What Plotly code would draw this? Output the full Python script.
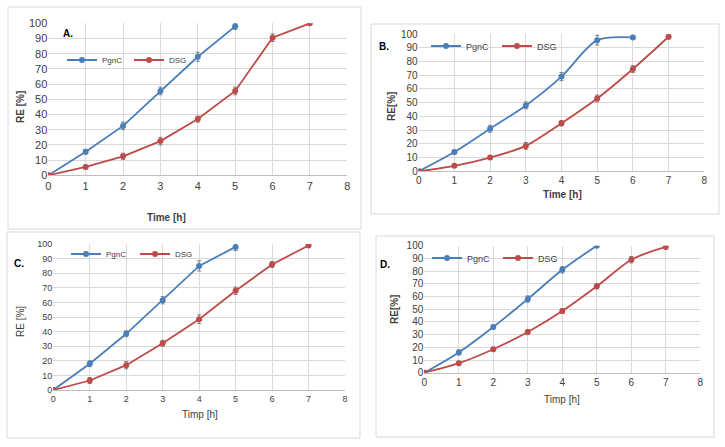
import plotly.graph_objects as go

W, H = 725, 447

# ---------------- data ----------------
time_pgnc_A = [0, 1, 2, 3, 4, 5]
pgnc_A = [0, 15.5, 32.5, 55.5, 78, 98]
pgnc_A_err = [1, 1.5, 2.5, 2.5, 3, 2]
time_dsg_A = [0, 1, 2, 3, 4, 5, 6, 7]
dsg_A = [0, 5.5, 12.5, 22.5, 37, 55.5, 90.5, 100]
dsg_A_err = [1, 1.2, 2, 2.5, 2, 2.5, 2.5, 1]

time_pgnc_B = [0, 1, 2, 3, 4, 5, 6]
pgnc_B = [0, 14, 31, 48, 69, 95.5, 97.5]
pgnc_B_err = [1, 1.5, 2.5, 2.5, 3, 3.5, 1]
time_dsg_B = [0, 1, 2, 3, 4, 5, 6, 7]
dsg_B = [0, 4, 10, 18.5, 35, 53, 74.5, 98]
dsg_B_err = [1, 1, 1.5, 2.5, 2, 2.5, 2.5, 1.5]

time_pgnc_C = [0, 1, 2, 3, 4, 5]
pgnc_C = [0, 18, 38.5, 61.5, 85, 98]
pgnc_C_err = [1, 2, 2, 2.5, 3.5, 2.5]
time_dsg_C = [0, 1, 2, 3, 4, 5, 6, 7]
dsg_C = [0, 6.5, 17, 32, 48.5, 68, 86, 99]
dsg_C_err = [1, 2, 2.5, 2, 3, 2.5, 2, 1]

time_pgnc_D = [0, 1, 2, 3, 4, 5]
pgnc_D = [0, 16, 36, 58, 81, 100]
pgnc_D_err = [1, 2, 1.5, 2.5, 2.5, 1]
time_dsg_D = [0, 1, 2, 3, 4, 5, 6, 7]
dsg_D = [0, 7.5, 18.5, 32, 48.5, 68, 89, 99]
dsg_D_err = [1, 1, 1.5, 2, 2, 2, 2.5, 1]

x_ticks = [0, 1, 2, 3, 4, 5, 6, 7, 8]
y_ticks = [0, 10, 20, 30, 40, 50, 60, 70, 80, 90, 100]

BLUE = "#4A7EBB"
RED = "#BE4B48"
FONT = "Liberation Sans"

def px(x):
    return x / W

def py(y):
    return 1 - y / H

panels = [
    dict(key="A", plot=(48.3, 347.3, 23.3, 175.3), frame=(8, 7, 361, 229),
         label=(68, 33), xtitle="Time [h]", xt=(166, 217), xbold=True,
         ytitle="RE [%]", yt=(20, 107), ybold=True, legy=60, legx=62, legfs=8,
         legew=22, tfs=11, shape="linear",
         data=(time_pgnc_A, pgnc_A, pgnc_A_err, time_dsg_A, dsg_A, dsg_A_err)),
    dict(key="B", plot=(418.7, 704.3, 34, 171.3), frame=(371, 24, 719, 214),
         label=(384, 46), xtitle="Time [h]", xt=(562, 195), xbold=True,
         ytitle="RE[%]", yt=(391, 107), ybold=True, legy=46, legx=426, legfs=9,
         legew=26, tfs=10, shape="spline",
         data=(time_pgnc_B, pgnc_B, pgnc_B_err, time_dsg_B, dsg_B, dsg_B_err)),
    dict(key="C", plot=(53.3, 345, 244, 390), frame=(7, 232, 360, 438),
         label=(19, 263), xtitle="Timp [h]", xt=(200, 414), xbold=False,
         ytitle="RE [%]", yt=(20, 322), ybold=False, legy=254, legx=66, legfs=8,
         legew=24, tfs=9, shape="linear",
         data=(time_pgnc_C, pgnc_C, pgnc_C_err, time_dsg_C, dsg_C, dsg_C_err)),
    dict(key="D", plot=(424.3, 700.3, 245.7, 372.7), frame=(376, 236, 714, 437),
         label=(385, 264), xtitle="Timp [h]", xt=(562, 399), xbold=False,
         ytitle="RE[%]", yt=(394, 310), ybold=True, legy=258, legx=427, legfs=9,
         legew=26, tfs=10, shape="spline",
         data=(time_pgnc_D, pgnc_D, pgnc_D_err, time_dsg_D, dsg_D, dsg_D_err)),
]

fig = go.Figure()
annotations = []
shapes = []
layout_axes = {}

for i, p in enumerate(panels):
    n = i + 1
    xa = "x" if n == 1 else f"x{n}"
    ya = "y" if n == 1 else f"y{n}"
    xkey = "xaxis" if n == 1 else f"xaxis{n}"
    ykey = "yaxis" if n == 1 else f"yaxis{n}"
    lkey = "legend" if n == 1 else f"legend{n}"
    x0, x1, yt_, yb_ = p["plot"]
    tp, vp, ep, td, vd, ed = p["data"]

    fig.add_trace(go.Scatter(
        x=tp, y=vp, name="PgnC", mode="lines+markers",
        line=dict(color=BLUE, width=1.8, shape=p["shape"], smoothing=0.8),
        marker=dict(color=BLUE, size=6),
        error_y=dict(type="data", array=ep, color="#7f7f7f", thickness=1, width=2),
        xaxis=xa, yaxis=ya, legend=lkey))
    fig.add_trace(go.Scatter(
        x=td, y=vd, name="DSG", mode="lines+markers",
        line=dict(color=RED, width=1.8, shape=p["shape"], smoothing=0.8),
        marker=dict(color=RED, size=6),
        error_y=dict(type="data", array=ed, color="#7f7f7f", thickness=1, width=2),
        xaxis=xa, yaxis=ya, legend=lkey))

    layout_axes[xkey] = dict(
        domain=[px(x0), px(x1)], range=[0, 8], tickvals=x_ticks,
        anchor=ya, showgrid=True, gridcolor="#d9d9d9", gridwidth=1,
        zeroline=False, showline=True, linecolor="#bfbfbf", automargin=False,
        ticks="", tickfont=dict(family=FONT, size=p["tfs"], color="#404040"),
        fixedrange=True)
    layout_axes[ykey] = dict(
        domain=[py(yb_), py(yt_)], range=[0, 100], tickvals=y_ticks,
        anchor=xa, showgrid=True, gridcolor="#d9d9d9", gridwidth=1,
        zeroline=False, showline=False, automargin=False,
        ticks="", tickfont=dict(family=FONT, size=p["tfs"], color="#404040"),
        fixedrange=True)
    layout_axes[lkey] = dict(
        x=px(p["legx"]), y=py(p["legy"]), xanchor="left", yanchor="middle",
        orientation="h", bgcolor="rgba(0,0,0,0)", borderwidth=0,
        font=dict(family=FONT, size=p["legfs"], color="#404040"),
        itemwidth=30, entrywidth=p["legew"], entrywidthmode="pixels",
        tracegroupgap=0)

    fx0, fy0, fx1, fy1 = p["frame"]
    shapes.append(dict(type="rect", xref="paper", yref="paper",
                       x0=px(fx0), x1=px(fx1), y0=py(fy1), y1=py(fy0),
                       line=dict(color="#d9d9d9", width=1), layer="below"))

    annotations.append(dict(
        text=f"<b>{p['key']}.</b>", x=px(p["label"][0]), y=py(p["label"][1]),
        xref="paper", yref="paper", showarrow=False, xanchor="center",
        yanchor="middle", font=dict(family=FONT, size=10, color="#000000")))
    xt_text = f"<b>{p['xtitle']}</b>" if p["xbold"] else p["xtitle"]
    annotations.append(dict(
        text=xt_text, x=px(p["xt"][0]), y=py(p["xt"][1]),
        xref="paper", yref="paper", showarrow=False, xanchor="center",
        yanchor="middle", font=dict(family=FONT, size=10, color="#404040")))
    yt_text = f"<b>{p['ytitle']}</b>" if p["ybold"] else p["ytitle"]
    annotations.append(dict(
        text=yt_text, x=px(p["yt"][0]), y=py(p["yt"][1]), textangle=-90,
        xref="paper", yref="paper", showarrow=False, xanchor="center",
        yanchor="middle", font=dict(family=FONT, size=10, color="#404040")))

fig.update_layout(
    width=W, height=H, margin=dict(l=0, r=0, t=0, b=0, pad=0),
    paper_bgcolor="white", plot_bgcolor="white",
    showlegend=True, shapes=shapes, annotations=annotations,
    **layout_axes)

fig.write_html(
    "out.html",
    config={"displayModeBar": False},
    post_script="document.body.style.margin='0';document.body.style.overflow='hidden';",
)
